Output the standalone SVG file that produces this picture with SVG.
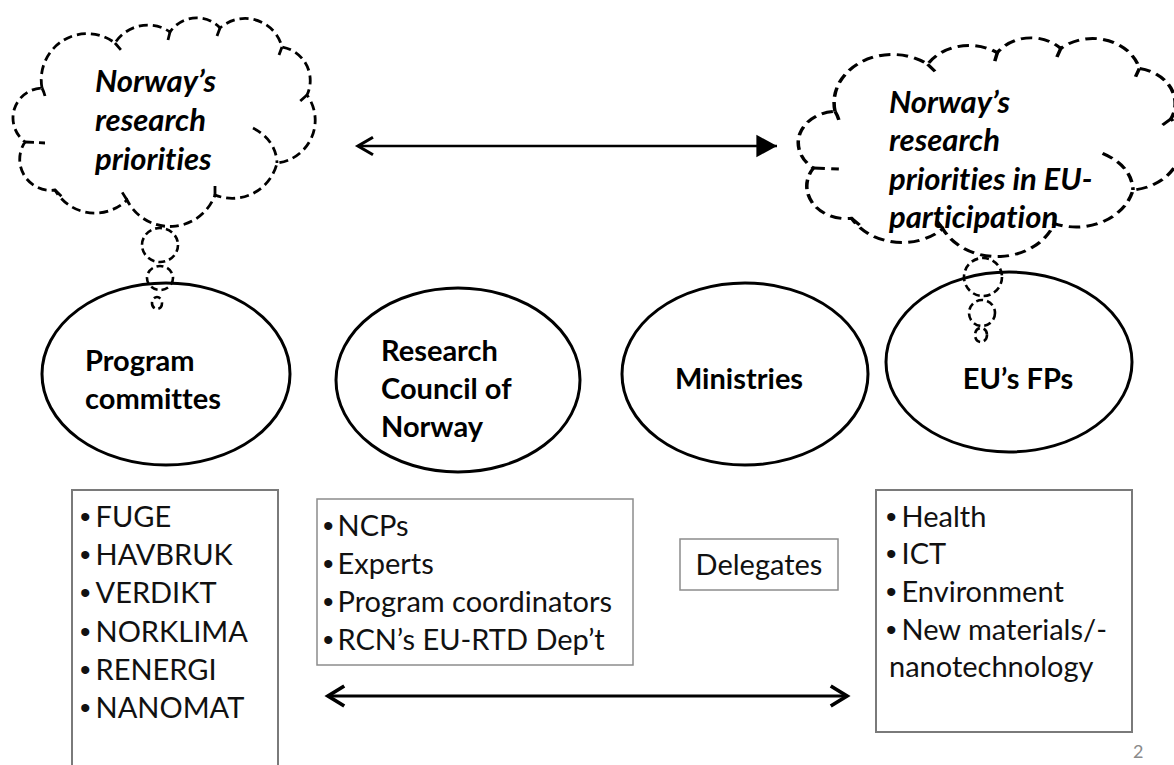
<svg xmlns="http://www.w3.org/2000/svg" width="1174" height="765" viewBox="0 0 1174 765">
  <defs>
    <style>
      text { font-variant-ligatures: none; }
      .cloud { fill: #ffffff; stroke: #000; stroke-width: 2.8; stroke-dasharray: 9 5; vector-effect: non-scaling-stroke; }
      .stub { fill: none; stroke: #000; stroke-width: 2.8; stroke-dasharray: 9 5; vector-effect: non-scaling-stroke; }
      .bubble { fill: none; stroke: #000; stroke-width: 2.6; stroke-dasharray: 7 4; }
      .node { fill: #ffffff; stroke: #000; stroke-width: 3; }
      .box { fill: #ffffff; stroke: #7a7a7a; stroke-width: 2; }
      .box2 { fill: #ffffff; stroke: #8c8c8c; stroke-width: 1.5; }
      .lbl { font-family: Lato, "Liberation Sans", sans-serif; font-weight: bold; font-size: 29px; fill: #000; }
      .thought { font-family: Lato, "Liberation Sans", sans-serif; font-weight: bold; font-style: italic; font-size: 31px; fill: #000; }
      .item { font-family: Lato, "Liberation Sans", sans-serif; font-size: 29px; fill: #111; }
      .b { font-family: "Liberation Sans", Arial, sans-serif; font-size: 30px; }
      .conn { fill: none; stroke: #000; }
      .pageno { font-family: Lato, "Liberation Sans", sans-serif; font-size: 18px; fill: #8a8a8a; }
    </style>
    <path id="cloudShape" d="M 42 88 A 46 46 0 0 1 115 43 A 39 39 0 0 1 170 32 A 32 32 0 0 1 220 28 A 38 38 0 0 1 282 47 A 34 34 0 0 1 307 95 A 43 43 0 0 1 277 163 A 46 46 0 0 1 215 195 A 48 48 0 0 1 127 200 A 46 46 0 0 1 55 190 A 31 31 0 0 1 25 142 A 30 30 0 0 1 42 88 Z"/>
    <path id="cloudStubs" d="M 42 88 Q 44 92 45 96 M 115 43 L 121 50 M 170 32 L 168 40 M 220 28 L 217 36 M 282 47 L 279 55 M 307 95 L 298 103 M 253 128 Q 276 140 277 163 M 215 195 L 215 185 M 127 200 L 122 192 M 55 190 L 62 197 M 25 142 L 45 143"/>
    <marker id="openHead" markerUnits="userSpaceOnUse" markerWidth="30" markerHeight="30" viewBox="-16 -12 20 24" refX="0" refY="0" orient="auto" overflow="visible">
      <path d="M -13 -8 L 0 0 L -13 8" fill="none" stroke="#000" stroke-width="3" stroke-linejoin="miter"/>
    </marker>
    <marker id="openHeadStart" markerUnits="userSpaceOnUse" markerWidth="30" markerHeight="30" viewBox="-4 -12 20 24" refX="0" refY="0" orient="auto" overflow="visible">
      <path d="M 13 -8 L 0 0 L 13 8" fill="none" stroke="#000" stroke-width="3" stroke-linejoin="miter"/>
    </marker>
    <marker id="smallOpenStart" markerUnits="userSpaceOnUse" markerWidth="30" markerHeight="30" viewBox="-4 -12 20 24" refX="0" refY="0" orient="auto" overflow="visible">
      <path d="M 12 -7 L 0 0 L 12 7" fill="none" stroke="#000" stroke-width="2.5"/>
    </marker>
    <marker id="filledHead" markerUnits="userSpaceOnUse" markerWidth="30" markerHeight="30" viewBox="-14 -8 16 16" refX="0" refY="0" orient="auto" overflow="visible">
      <path d="M -11 -6 L 0 0 L -11 6 Z" fill="#000" stroke="none"/>
    </marker>
  </defs>

  <rect x="0" y="0" width="1174" height="765" fill="#ffffff"/>

  <!-- Thought cloud 1 -->
  <g id="cloud-norway-priorities">
    <use href="#cloudShape" class="cloud"/>
    <use href="#cloudStubs" class="stub"/>
    <text class="thought" x="95" y="92">Norway’s</text>
    <text class="thought" x="95" y="131">research</text>
    <text class="thought" x="95" y="170">priorities</text>
  </g>

  <!-- Thought cloud 2 -->
  <g id="cloud-eu-priorities">
    <g transform="translate(797,37) scale(1.268,1.048) translate(-12,-17)">
      <use href="#cloudShape" class="cloud"/>
      <use href="#cloudStubs" class="stub"/>
    </g>
    <text class="thought" x="889" y="113">Norway’s</text>
    <text class="thought" x="889" y="151">research</text>
    <text class="thought" x="889" y="190">priorities in EU-</text>
    <text class="thought" x="889" y="228">participation</text>
  </g>

  <!-- Ellipse nodes -->
  <g id="node-program-committes">
    <ellipse class="node" cx="166" cy="374" rx="124" ry="91"/>
    <text class="lbl" x="85" y="371">Program</text>
    <text class="lbl" x="85" y="409">committes</text>
  </g>
  <g id="node-research-council">
    <ellipse class="node" cx="458" cy="380" rx="122" ry="92"/>
    <text class="lbl" x="381" y="361">Research</text>
    <text class="lbl" x="381" y="399">Council of</text>
    <text class="lbl" x="381" y="437">Norway</text>
  </g>
  <g id="node-ministries">
    <ellipse class="node" cx="745" cy="374" rx="123" ry="91"/>
    <text class="lbl" x="739" y="389" text-anchor="middle">Ministries</text>
  </g>
  <g id="node-eu-fps">
    <ellipse class="node" cx="1009" cy="362" rx="123" ry="90"/>
    <text class="lbl" x="1018" y="389" text-anchor="middle">EU’s FPs</text>
  </g>

  <!-- Thought bubbles (drawn over the ellipses) -->
  <g id="bubbles-1">
    <ellipse class="bubble" cx="160" cy="245" rx="18" ry="17"/>
    <ellipse class="bubble" cx="160" cy="278" rx="13" ry="12"/>
    <ellipse class="bubble" cx="157" cy="303" rx="5" ry="6"/>
  </g>
  <g id="bubbles-2">
    <ellipse class="bubble" cx="983" cy="277" rx="19" ry="19"/>
    <ellipse class="bubble" cx="982" cy="313" rx="13" ry="13"/>
    <ellipse class="bubble" cx="981" cy="335" rx="6" ry="7"/>
  </g>

  <!-- Boxes -->
  <g id="box-programs">
    <rect class="box" x="72" y="490" width="206" height="300"/>
    <text class="item" x="80" y="527"><tspan class="b">•</tspan><tspan dx="5">FUGE</tspan></text>
    <text class="item" x="80" y="565"><tspan class="b">•</tspan><tspan dx="5">HAVBRUK</tspan></text>
    <text class="item" x="80" y="603"><tspan class="b">•</tspan><tspan dx="5">VERDIKT</tspan></text>
    <text class="item" x="80" y="642"><tspan class="b">•</tspan><tspan dx="5">NORKLIMA</tspan></text>
    <text class="item" x="80" y="680"><tspan class="b">•</tspan><tspan dx="5">RENERGI</tspan></text>
    <text class="item" x="80" y="718"><tspan class="b">•</tspan><tspan dx="5">NANOMAT</tspan></text>
  </g>
  <g id="box-rcn">
    <rect class="box2" x="317" y="499" width="316" height="166"/>
    <text class="item" x="323" y="536"><tspan class="b">•</tspan><tspan dx="4">NCPs</tspan></text>
    <text class="item" x="323" y="574"><tspan class="b">•</tspan><tspan dx="4">Experts</tspan></text>
    <text class="item" x="323" y="612"><tspan class="b">•</tspan><tspan dx="4">Program coordinators</tspan></text>
    <text class="item" x="323" y="650"><tspan class="b">•</tspan><tspan dx="4">RCN’s EU-RTD Dep’t</tspan></text>
  </g>
  <g id="box-delegates">
    <rect class="box2" x="680" y="539" width="158" height="51"/>
    <text class="item" x="759" y="575" text-anchor="middle">Delegates</text>
  </g>
  <g id="box-themes">
    <rect class="box" x="876" y="490" width="256" height="242"/>
    <text class="item" x="886" y="527"><tspan class="b">•</tspan><tspan dx="5">Health</tspan></text>
    <text class="item" x="886" y="564"><tspan class="b">•</tspan><tspan dx="5">ICT</tspan></text>
    <text class="item" x="886" y="602"><tspan class="b">•</tspan><tspan dx="5">Environment</tspan></text>
    <text class="item" x="886" y="640"><tspan class="b">•</tspan><tspan dx="5">New materials/-</tspan></text>
    <text class="item" x="889" y="677">nanotechnology</text>
  </g>

  <!-- Connectors -->
  <g id="connectors">
    <line class="conn" x1="358" y1="146" x2="777" y2="146" stroke-width="2.5" marker-start="url(#smallOpenStart)" marker-end="url(#filledHead)"/>
    <line class="conn" x1="328" y1="696" x2="847" y2="696" stroke-width="3" marker-start="url(#openHeadStart)" marker-end="url(#openHead)"/>
  </g>

  <text class="pageno" x="1133" y="758">2</text>
</svg>
